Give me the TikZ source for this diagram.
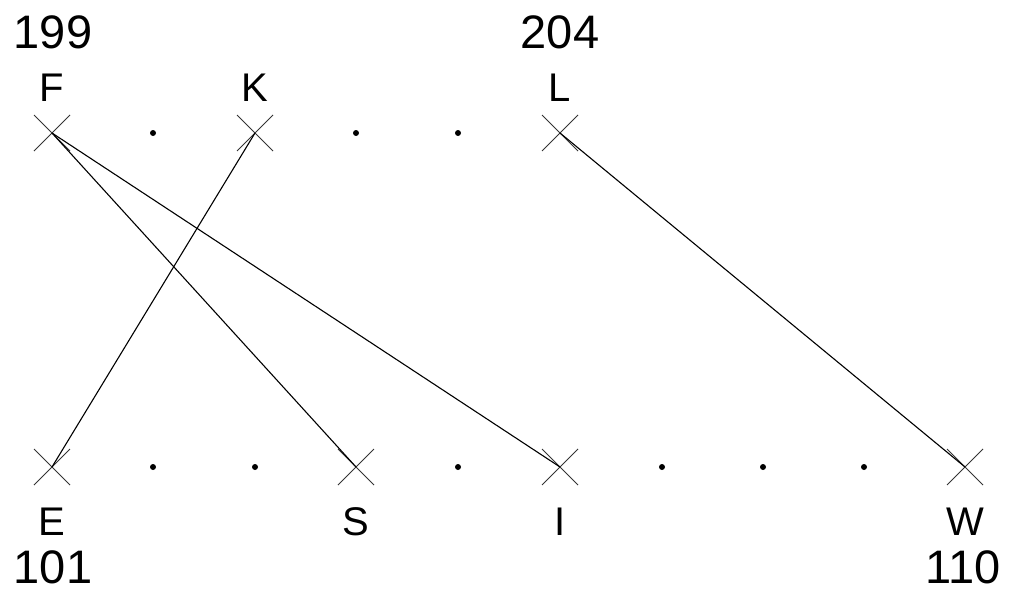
\documentclass[tikz,border=0pt]{standalone}
\usepackage{fontspec}
\setmainfont{Liberation Sans}
\usetikzlibrary{shapes.misc}
\begin{document}
\begin{tikzpicture}[x=1pt,y=-1pt,
  crossnode/.style={cross out,draw=black!80,line width=0.8pt,minimum size=36pt,inner sep=0pt,outer sep=0pt},
  dotnode/.style={circle,fill=black,inner sep=0pt,minimum size=6pt},
  letter/.style={font=\fontsize{40}{40}\selectfont,inner sep=0pt},
  number/.style={font=\fontsize{47}{47}\selectfont,inner sep=0pt},
  link/.style={line width=1.1pt,black}]
\useasboundingbox (0,0) rectangle (1014,594);
% top row
\node[crossnode] (F) at (52,133) {};
\node[dotnode] (t1) at (153,133) {};
\node[crossnode] (K) at (255,133) {};
\node[dotnode] (t3) at (356,133) {};
\node[dotnode] (t4) at (458,133) {};
\node[crossnode] (L) at (560,133) {};
% bottom row
\node[crossnode] (E) at (52,467) {};
\node[dotnode] (b1) at (153,467) {};
\node[dotnode] (b2) at (255,467) {};
\node[crossnode] (S) at (356,467) {};
\node[dotnode] (b4) at (458,467) {};
\node[crossnode] (I) at (560,467) {};
\node[dotnode] (b6) at (662,467) {};
\node[dotnode] (b7) at (763,467) {};
\node[dotnode] (b8) at (864,467) {};
\node[crossnode] (W) at (965,467) {};
% labels
\node[letter] (lF) at (52,88) {F};
\node[letter] (lK) at (255,88) {K};
\node[letter] (lL) at (560,88) {L};
\node[letter] (lE) at (52,522) {E};
\node[letter] (lS) at (356,522) {S};
\node[letter] (lI) at (560,522) {I};
\node[letter] (lW) at (965,522) {W};
\node[number] (n199) at (53,32) {199};
\node[number] (n204) at (560,32) {204};
\node[number] (n101) at (53,567) {101};
\node[number] (n110) at (963,567) {110};
% connectors
\draw[link] (F.center) -- (S.center);
\draw[link] (F.center) -- (I.center);
\draw[link] (K.center) -- (E.center);
\draw[link] (L.center) -- (W.center);
\end{tikzpicture}
\end{document}
